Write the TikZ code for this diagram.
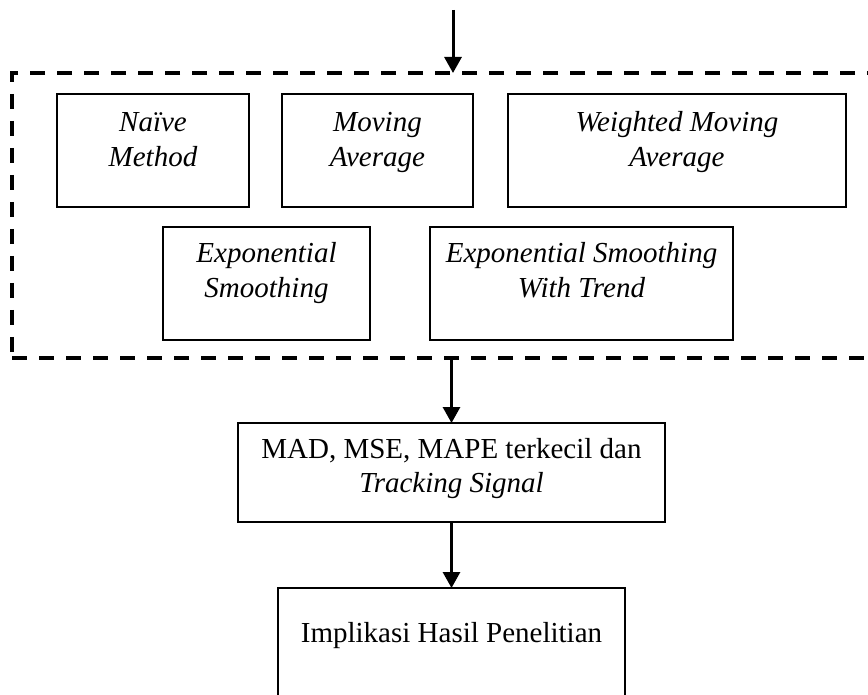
\documentclass[tikz,border=0pt]{standalone}
\usepackage{fontspec}
\setmainfont{Liberation Serif}
\usepackage{tikz}
\usetikzlibrary{arrows.meta, positioning}

\begin{document}
\begin{tikzpicture}[
  x=1pt, y=-1pt,
  box/.style={rectangle, draw=black, line width=2.7pt, fill=white, inner sep=0pt, outer sep=0pt, align=flush center, font=\fontsize{29}{34.5}\selectfont},
  method/.style={box, font=\fontsize{29}{34.5}\selectfont\itshape, text height=38pt, text depth=75pt},
  frame/.style={rectangle, draw=black, line width=3.5pt, dash pattern=on 15pt off 12pt, inner sep=0pt, outer sep=0pt},
  arrow/.style={-{Triangle[width=17pt, length=16pt]}, line width=3pt, draw=black}
]
\clip (0,0) rectangle (868,695);

\node[frame, minimum width=900pt, minimum height=285pt, anchor=north west] (frame) at (12,73) {};

\node[method, text width=192pt, anchor=north west] (naive) at (57,94) {Naïve\\Method};
\node[method, text width=191pt, right=33pt of naive] (moving) {Moving\\Average};
\node[method, text width=338pt, right=35pt of moving] (weighted) {Weighted Moving\\Average};
\node[method, text width=207pt, text height=36pt, text depth=77pt, anchor=north west] (expo) at (163,227) {Exponential\\Smoothing};
\node[method, text width=303pt, text height=36pt, text depth=77pt, right=60pt of expo] (trend) {Exponential Smoothing\\With Trend};

\node[box, text width=427pt, text height=35pt, text depth=64pt, anchor=north] (mad) at (451.5,423) {MAD, MSE, MAPE terkecil dan\\\textit{Tracking Signal}};
\node[box, text width=347pt, text height=54pt, text depth=100pt, below=66pt of mad] (impl) {Implikasi Hasil Penelitian};

\coordinate (start) at (453,10);
\draw[arrow] (start) -- (start |- frame.north);
\draw[arrow] (frame.south -| mad.north) -- (mad.north);
\draw[arrow] (mad) -- (impl);
\end{tikzpicture}
\end{document}
